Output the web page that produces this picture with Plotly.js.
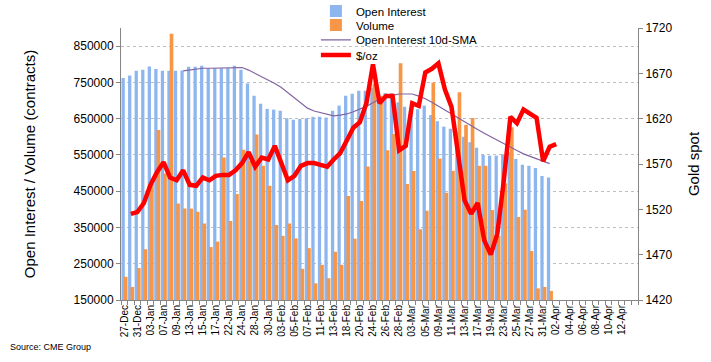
<!DOCTYPE html>
<html>
<head>
<meta charset="utf-8">
<script src="https://cdn.plot.ly/plotly-3.0.1.min.js"></script>
<style>html,body{margin:0;padding:0;background:#fff;}#chart{width:711px;height:362px;}</style>
</head>
<body>
<div id="chart"></div>
<script>
// Category axis: business days, then calendar days after 01-Apr
const dates = ['27-Dec','30-Dec','31-Dec','02-Jan','03-Jan','06-Jan','07-Jan','08-Jan','09-Jan','10-Jan',
'13-Jan','14-Jan','15-Jan','16-Jan','17-Jan','21-Jan','22-Jan','23-Jan','24-Jan','27-Jan',
'28-Jan','29-Jan','30-Jan','31-Jan','03-Feb','04-Feb','05-Feb','06-Feb','07-Feb','10-Feb',
'11-Feb','12-Feb','13-Feb','14-Feb','18-Feb','19-Feb','20-Feb','21-Feb','24-Feb','25-Feb',
'26-Feb','27-Feb','28-Feb','02-Mar','03-Mar','04-Mar','05-Mar','06-Mar','09-Mar','10-Mar',
'11-Mar','12-Mar','13-Mar','16-Mar','17-Mar','18-Mar','19-Mar','20-Mar','23-Mar','24-Mar',
'25-Mar','26-Mar','27-Mar','30-Mar','31-Mar','01-Apr','02-Apr','03-Apr','04-Apr','05-Apr',
'06-Apr','07-Apr','08-Apr','09-Apr','10-Apr','11-Apr','12-Apr','13-Apr','14-Apr'];

// Open interest (contracts)
const openInterest = [762000,769000,782000,785000,794000,787000,782000,782000,782000,783000,
793000,793000,796000,789000,789000,789000,789000,796000,785000,747000,
713000,691000,677000,675000,672000,651000,647000,649000,651000,655000,
655000,653000,672000,686000,713000,719000,727000,727000,735000,723000,
720000,720000,695000,683000,676000,676000,686000,660000,643000,628000,
622000,612000,600000,585000,570000,550000,548000,548000,552000,557000,
539000,523000,520000,514000,492000,488000];

// Volume (contracts)
const volume = [214000,186000,238000,290000,470000,619000,499000,884000,416000,402000,
402000,393000,361000,296000,311000,543000,368000,442000,564000,534000,
606000,520000,465000,357000,327000,361000,320000,236000,293000,196000,
247000,210000,283000,247000,437000,319000,423000,518000,746000,713000,
563000,608000,803000,470000,506000,345000,396000,750000,540000,446000,
506000,723000,633000,652000,520000,520000,398000,327000,472000,626000,
379000,399000,285000,182000,186000,175000];

// Open interest 10-day SMA (first 9 days have no value)
const oiSma = [null,null,null,null,null,null,null,null,null,782000,
785000,788000,789000,789000,789000,789000,790000,791000,791000,784000,
775000,766000,756000,747000,736000,722000,708000,693000,679000,671000,
666000,661000,658000,660000,663000,669000,676000,684000,694000,704000,
711000,715000,718000,718000,718000,712000,705000,695000,684000,673000,
662000,651000,640000,631000,620000,610000,600000,591000,581000,571000,
562000,553000,546000,539000,533000,526000];

// Gold spot $/oz
const gold = [null,1515,1517,1527,1547,1561,1572,1555,1552,1563,
1547,1546,1555,1552,1557,1558,1558,1563,1571,1583,
1567,1577,1575,1590,1571,1552,1557,1568,1571,1571,
1569,1567,1575,1582,1596,1610,1616,1637,1680,1637,
1645,1645,1585,1590,1637,1634,1671,1675,1681,1652,
1633,1578,1530,1515,1527,1486,1470,1493,1552,1622,
1615,1630,1626,1621,1573,1589,1592];

const leftTicks = [150000,250000,350000,450000,550000,650000,750000,850000];
const rightTicks = [1420,1470,1520,1570,1620,1670,1720];
const tickText = dates.map((d, i) => (i % 2 === 0 && i < dates.length - 1) ? d : '');

const FONT = 'Liberation Sans, Arial, Helvetica, sans-serif';

const traces = [
  {type:'bar', name:'Open Interest', x:dates.slice(0, openInterest.length), y:openInterest,
   marker:{color:'#8DB6EF'}, width:0.5, offset:-0.42, legend:'legend', hoverinfo:'skip'},
  {type:'bar', name:'Volume', x:dates.slice(0, volume.length), y:volume,
   marker:{color:'#F79646'}, width:0.56, offset:-0.06, legend:'legend2', hoverinfo:'skip'},
  {type:'scatter', mode:'lines', name:'Open Interest 10d-SMA', x:dates.slice(0, oiSma.length), y:oiSma,
   line:{color:'#8064A2', width:1.2}, legend:'legend3', hoverinfo:'skip'},
  {type:'scatter', mode:'lines', name:'$/oz', x:dates.slice(0, gold.length), y:gold, yaxis:'y2',
   line:{color:'#FF0000', width:4.5}, legend:'legend4', hoverinfo:'skip'}
];

function leg(yPaper){
  return {x:0.377, y:yPaper, xanchor:'left', yanchor:'middle', bgcolor:'rgba(0,0,0,0)',
          borderwidth:0, font:{family:FONT, size:11.5, color:'#000'}, orientation:'v'};
}

const layout = {
  width:711, height:362,
  margin:{l:121, r:73, t:28, b:62, pad:0, autoexpand:false},
  paper_bgcolor:'#fff', plot_bgcolor:'#fff',
  font:{family:FONT, color:'#000'},
  barmode:'overlay',
  showlegend:true,
  xaxis:{type:'category', categoryorder:'array', categoryarray:dates,
         range:[-0.5, dates.length - 0.5], tickmode:'array', tickvals:dates, ticktext:tickText,
         tickangle:-90, tickfont:{size:10, color:'#000'}, ticks:'outside', tickson:'boundaries',
         ticklen:4, tickcolor:'#868686', showline:true, linecolor:'#868686', linewidth:1,
         showgrid:false, zeroline:false, automargin:false},
  yaxis:{range:[150000, 900000], tickmode:'array', tickvals:leftTicks, tickformat:'d',
         ticks:'outside', ticklen:4, tickcolor:'#868686', showline:true, linecolor:'#868686',
         showgrid:true, gridcolor:'#BFBFBF', griddash:'dot', gridwidth:1, zeroline:false,
         tickfont:{size:12, color:'#000'}, automargin:false,
         title:{text:'Open Interest / Volume (contracts)', font:{size:15, color:'#000'}, standoff:34}},
  yaxis2:{overlaying:'y', side:'right', range:[1420, 1720], tickmode:'array', tickvals:rightTicks,
          ticks:'outside', ticklen:4, tickcolor:'#868686', showline:true, linecolor:'#868686',
          showgrid:false, zeroline:false, tickfont:{size:12, color:'#000'}, automargin:false,
          title:{text:'Gold spot', font:{size:15, color:'#000'}, standoff:17}},
  legend:leg(1.0625),
  legend2:leg(1.011),
  legend3:leg(0.956),
  legend4:leg(0.9007),
  annotations:[{text:'Source: CME Group', xref:'paper', yref:'paper', x:-0.2186, y:-0.1717,
                xanchor:'left', yanchor:'middle', showarrow:false, font:{size:9, color:'#000'}}]
};

Plotly.newPlot('chart', traces, layout, {staticPlot:true, displayModeBar:false});
</script>
</body>
</html>
